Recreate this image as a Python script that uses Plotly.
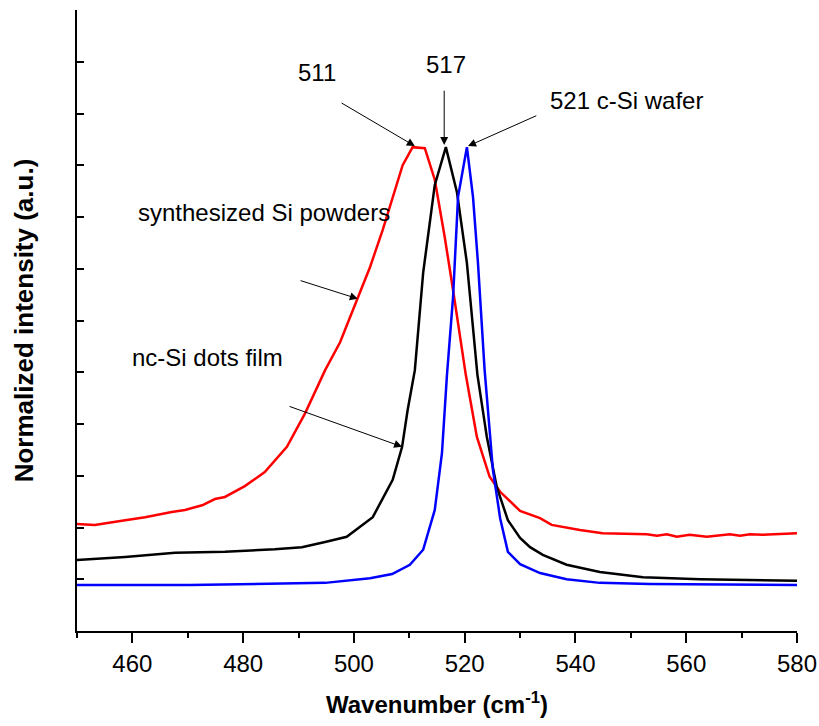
import plotly.graph_objects as go

# ---- data (wavenumber in cm^-1, normalized intensity in a.u.) ----
wn_powder = [450, 453.2, 458.7, 462.3, 467.1, 469.5, 472.6, 474.9, 476.7, 480.3,
             483.9, 487.9, 491.2, 494.8, 497.5, 500.5, 502.9, 505.2, 508.8, 510.6,
             512.8, 514.6, 516.4, 517.9, 520.2, 522.2, 524.5, 526.4, 530.0, 533.6,
             535.7, 540.8, 544.9, 552.9, 554.7, 556.5, 558.3, 560.6, 563.7, 567.9,
             569.7, 571.5, 573.8, 580]
int_powder = [2.07, 2.05, 2.14, 2.20, 2.30, 2.34, 2.43, 2.55, 2.59, 2.80,
              3.07, 3.56, 4.21, 5.04, 5.58, 6.40, 7.03, 7.75, 9.00, 9.35,
              9.33, 8.72, 7.61, 6.59, 4.95, 3.75, 2.98, 2.69, 2.32, 2.18,
              2.05, 1.95, 1.89, 1.87, 1.84, 1.87, 1.82, 1.86, 1.82, 1.87,
              1.84, 1.87, 1.86, 1.89]

wn_film = [450, 458.7, 467.7, 476.7, 485.7, 490.6, 494.8, 498.7, 503.4, 507.0,
           508.7, 509.7, 511.0, 512.5, 514.6, 516.6, 518.6, 520.4, 522.3, 524.0,
           525.8, 527.8, 530.0, 531.8, 534.1, 538.4, 544.4, 552.2, 562.5, 580]
int_film = [1.37, 1.43, 1.51, 1.53, 1.58, 1.62, 1.72, 1.82, 2.20, 2.92,
            3.56, 4.27, 5.04, 6.92, 8.62, 9.35, 8.48, 7.11, 4.95, 3.75,
            2.78, 2.14, 1.80, 1.62, 1.47, 1.28, 1.14, 1.04, 1.00, 0.97]

wn_wafer = [450, 470.4, 494.8, 502.9, 506.9, 510.1, 512.5, 514.6, 515.9, 516.8,
            517.9, 518.8, 520.4, 521.5, 522.4, 523.6, 525.1, 526.4, 527.8, 530.0,
            533.6, 538.4, 544.4, 553.4, 580]
int_wafer = [0.89, 0.89, 0.93, 1.02, 1.10, 1.28, 1.57, 2.34, 3.44, 4.95,
             6.45, 8.39, 9.35, 8.39, 7.11, 5.04, 3.11, 2.18, 1.53, 1.29,
             1.12, 1.00, 0.93, 0.91, 0.89]

x_ticks = [460, 480, 500, 520, 540, 560, 580]

FONT = "Liberation Sans, Arial, sans-serif"

fig = go.Figure()
fig.add_trace(go.Scatter(x=wn_powder, y=int_powder, mode="lines",
                         line=dict(color="#ff0000", width=2.5), name="synthesized Si powders"))
fig.add_trace(go.Scatter(x=wn_film, y=int_film, mode="lines",
                         line=dict(color="#000000", width=2.5), name="nc-Si dots film"))
fig.add_trace(go.Scatter(x=wn_wafer, y=int_wafer, mode="lines",
                         line=dict(color="#0000ff", width=2.5), name="c-Si wafer"))

# arrows (tip -> tail in data coordinates)
arrows = [
    (511.0, 9.37, 497.5, 10.22),
    (516.3, 9.39, 516.3, 10.47),
    (520.6, 9.37, 533.2, 9.97),
    (500.7, 6.42, 490.1, 6.78),
    (508.7, 3.56, 488.1, 4.35),
]
for (x, y, ax, ay) in arrows:
    fig.add_annotation(x=x, y=y, ax=ax, ay=ay, xref="x", yref="y", axref="x", ayref="y",
                       text="", showarrow=True, arrowhead=2, arrowsize=1.6,
                       arrowwidth=1, arrowcolor="#000000")

labels = [
    ("511", 493.3, 10.80, "center"),
    ("517", 516.6, 10.94, "center"),
    ("521 c-Si wafer", 535.0, 10.26, "left"),
    ("synthesized Si powders", 460.6, 8.08, "left"),
    ("nc-Si dots film", 459.6, 5.29, "left"),
]
for (t, x, y, anc) in labels:
    fig.add_annotation(x=x, y=y, xref="x", yref="y", text=t, showarrow=False,
                       xanchor=anc, yanchor="middle",
                       font=dict(family=FONT, size=24, color="#000000"))

fig.update_layout(
    width=819, height=726,
    margin=dict(l=77, r=22, t=10, b=95),
    paper_bgcolor="white", plot_bgcolor="white",
    showlegend=False,
    font=dict(family=FONT, size=24, color="#000000"),
)
fig.update_xaxes(
    range=[450, 580], tickvals=x_ticks, ticktext=[str(v) for v in x_ticks],
    automargin=False,
    ticks="outside", ticklen=10, tickwidth=2, tickcolor="#000000",
    minor=dict(dtick=10, tick0=450, ticks="outside", ticklen=5, tickwidth=2, tickcolor="#000000"),
    showline=True, linecolor="#000000", linewidth=2,
    showgrid=False, zeroline=False,
    tickfont=dict(family=FONT, size=24, color="#000000"),
    title=dict(text="<b>Wavenumber (cm<sup>-1</sup>)</b>", standoff=20,
               font=dict(family=FONT, size=24, color="#000000")),
)
fig.update_yaxes(
    range=[0, 12], dtick=1, tick0=0, showticklabels=False,
    automargin=False,
    ticks="inside", ticklen=7, tickwidth=1.5, tickcolor="#000000",
    showline=True, linecolor="#000000", linewidth=2,
    showgrid=False, zeroline=False,
    title=dict(text="<b>Normalized intensity (a.u.)</b>", standoff=34,
               font=dict(family=FONT, size=26, color="#000000")),
)

fig.write_html("out.html")
